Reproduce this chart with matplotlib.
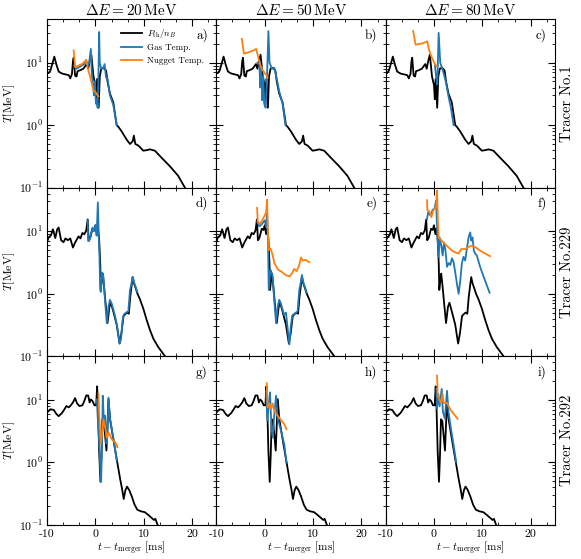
import matplotlib
matplotlib.use("Agg")
import matplotlib.pyplot as plt
from matplotlib.ticker import AutoMinorLocator, LogLocator, NullFormatter

plt.rcParams["font.family"] = "cmr10"
plt.rcParams["mathtext.fontset"] = "cm"
plt.rcParams["axes.unicode_minus"] = False
plt.rcParams["axes.formatter.use_mathtext"] = True

energies = ["20", "50", "80"]
tracers = ["Tracer No.1", "Tracer No.229", "Tracer No.292"]
panel_tags = ["a)", "b)", "c)", "d)", "e)", "f)", "g)", "h)", "i)"]

# P_th / n_B, same in every column of a row
blk1_t = [-10, -9.7, -9.3, -8.8, -8.5, -8.1, -7.6, -6.9, -6.2, -5.5, -5.2, -4.85, -4.65, -4.5,
          -4.2, -3.9, -3.7, -3.1, -2.5, -1.8, -1.5, -1.2, -0.85, -0.4, 0.0, 0.18, 0.35, 0.67,
          0.9, 1.2, 1.7, 2.2, 2.5, 3.0, 3.7, 4.4, 4.7, 5.4, 6.5, 7.15, 7.7, 7.95, 8.25, 8.9,
          9.9, 10.7, 11.3, 12.3, 13.7, 15.4, 17.1, 18.5, 19.0]
blk1_T = [7.0, 6.8, 7.5, 10.3, 12.5, 9.5, 7.2, 6.7, 6.5, 6.3, 5.6, 6.6, 10.5, 12.0,
          6.2, 6.0, 7.3, 7.6, 8.0, 9.5, 8.0, 10.5, 13.4, 6.0, 4.4, 2.6, 5.5, 1.9,
          6.0, 8.0, 8.3, 7.5, 5.0, 3.2, 2.3, 1.0, 0.95, 0.8, 0.58, 0.5, 0.55, 0.68, 0.5, 0.47,
          0.39, 0.4, 0.41, 0.39, 0.3, 0.22, 0.155, 0.1, 0.085]

blk2_t = [-10, -9.7, -9.2, -8.8, -8.3, -7.9, -7.6, -7.1, -6.6, -6.2, -5.7, -5.2, -4.65, -4.2,
          -3.5, -3.1, -2.7, -2.3, -1.9, -1.6, -1.4, -1.1, -0.6, -0.25, 0.0, 0.3, 0.5, 0.75,
          1.0, 1.1, 1.3, 1.5, 1.75, 2.05, 2.5, 2.9, 3.2, 3.7, 4.4, 5.0, 5.4, 5.8, 6.5, 6.9,
          7.2, 7.7, 8.0, 8.3, 8.7, 9.2, 9.9, 10.6, 11.3, 12.0, 13.0, 14.0, 14.6]
blk2_T = [6.6, 8.0, 8.6, 10.8, 7.8, 10.8, 11.5, 7.2, 6.7, 7.7, 7.2, 7.7, 5.5, 6.6,
          8.3, 7.7, 9.4, 9.0, 10.3, 15.5, 7.2, 7.8, 11.0, 10.5, 12.5, 9.0, 11.0, 8.0,
          3.0, 1.15, 1.6, 2.1, 1.4, 0.78, 0.34, 0.62, 0.72, 0.52, 0.32, 0.16, 0.24, 0.44, 0.5, 0.48,
          0.9, 1.85, 1.45, 1.25, 1.0, 0.82, 0.58, 0.38, 0.26, 0.19, 0.14, 0.11, 0.095]

blk3_t = [-10, -9.3, -8.6, -8.1, -7.6, -6.9, -6.4, -6.0, -5.5, -5.1, -4.65, -4.2, -3.8, -3.3,
          -2.7, -2.3, -1.9, -1.5, -1.2, -0.94, -0.6, -0.2, 0.15, 0.36, 0.56, 0.77, 1.04, 1.25,
          1.45, 1.73, 2.0, 2.28, 2.5, 2.7, 3.03, 3.45, 3.86, 4.27, 4.68, 5.1, 5.5, 5.85, 6.2,
          6.53, 7.0, 7.56, 8.1, 8.66, 9.4, 10.2, 10.9, 11.6, 12.1, 12.4, 12.85, 13.2]
blk3_T = [6.3, 7.1, 6.9, 6.0, 5.5, 6.2, 7.1, 8.0, 7.6, 8.2, 9.1, 10.7, 8.8, 8.0,
          8.2, 9.6, 11.8, 11.8, 9.1, 10.2, 9.6, 8.2, 8.2, 16.5, 6.3, 1.5, 0.49, 1.3,
          4.9, 4.6, 2.7, 1.55, 4.1, 10.3, 4.9, 3.1, 2.0, 1.3, 0.85, 0.55, 0.38, 0.26, 0.36,
          0.41, 0.36, 0.28, 0.21, 0.175, 0.165, 0.16, 0.145, 0.13, 0.12, 0.125, 0.1, 0.09]

# gas temperature
gas_a_t = [-4.4, -3.9, -3.0, -2.3, -1.9, -1.6, -1.3, -0.94, -0.75, -0.5, -0.3, -0.1, 0.1, 0.3,
           0.45, 0.6, 0.77, 0.9, 1.2, 1.6, 1.9, 2.2, 2.5, 3.0, 3.7, 4.4]
gas_a_T = [9.0, 8.0, 8.8, 9.5, 11.0, 9.0, 10.0, 16.6, 6.5, 4.5, 3.0, 5.0, 2.2, 2.6,
           1.9, 5.0, 31, 10, 8.0, 8.0, 9.5, 5.8, 5.6, 3.0, 2.1, 1.0]
gas_b_t = [-1.5, -1.1, -0.9, -0.7, -0.5, -0.3, -0.1, 0.2, 0.45, 0.77, 1.0, 1.5, 2.0, 2.5,
           3.0, 3.7, 4.3]
gas_b_T = [10.0, 9.5, 4.0, 8.0, 2.5, 6.0, 2.2, 1.9, 5.0, 32, 10, 8.0, 8.3, 5.5,
           3.5, 2.2, 1.0]
gas_c_t = [0.2, 0.5, 0.7, 0.97, 1.3, 2.0, 2.5, 3.0, 3.5, 4.07]
gas_c_T = [9.0, 5.5, 4.5, 30, 10, 6.8, 4.8, 2.9, 1.9, 1.0]

gas_d_t = [-1.6, -1.5, -1.3, -1.1, -0.6, -0.3, 0.0, 0.25, 0.5, 0.7, 0.84, 0.98, 1.1, 1.4,
           1.65, 1.95, 2.35, 2.7, 3.0, 3.35, 4.0, 4.5, 5.0, 5.3, 5.6, 5.9, 6.5, 6.8, 7.15,
           7.45, 7.7, 8.0, 8.3, 8.67]
gas_d_T = [15.0, 7.0, 7.0, 7.8, 11.5, 10.0, 12.5, 8.5, 29, 8.0, 3.9, 1.3, 1.07, 2.2,
           1.9, 0.85, 0.34, 0.62, 0.8, 0.7, 0.46, 0.3, 0.16, 0.19, 0.37, 0.47, 0.51, 0.52, 1.15,
           1.45, 1.87, 1.5, 1.3, 1.07]
gas_e_t = [-1.5, -1.1, -0.6, 0.0, 0.3, 0.5, 0.7, 0.84, 1.2, 1.4, 1.65, 1.95, 2.35, 2.7,
           3.0, 3.35, 4.0, 4.4, 5.1, 5.4, 5.7, 6.0, 6.5, 6.8, 7.15, 7.45, 7.7, 8.0, 8.3, 8.67]
gas_e_T = [14.0, 12.0, 13.0, 15.0, 12.0, 20.0, 6.0, 1.15, 2.4, 2.2, 1.9, 0.85, 0.34, 0.62,
           0.8, 0.7, 0.46, 0.5, 0.155, 0.3, 0.45, 0.47, 0.5, 0.52, 1.15, 1.5, 2.0, 1.5, 1.3, 1.05]
gas_f_t = [-1.43, -1.2, -0.74, -0.26, 0.15, 0.43, 0.7, 0.98, 1.18, 1.52, 1.8, 2.07, 2.35, 2.7,
           3.03, 3.38, 3.72, 4.06, 4.4, 4.75, 5.1, 5.43, 5.78, 6.1, 6.46, 6.8, 7.15, 7.5, 7.7,
           7.97, 8.25, 8.52, 8.87, 9.55, 10.24, 10.9, 11.5]
gas_f_T = [15.7, 20, 18, 22, 23.5, 31, 9.2, 3.9, 8.0, 5.9, 4.1, 6.6, 5.2, 2.7,
           3.1, 2.9, 3.7, 3.2, 2.2, 1.45, 1.0, 1.6, 3.1, 3.9, 3.4, 5.2, 8.0, 9.6, 7.1,
           8.0, 4.9, 4.4, 4.1, 2.7, 1.9, 1.39, 1.04]

gas_g_t = [0.29, 0.5, 0.77, 0.98, 1.18, 1.39, 1.52, 1.73, 2.0, 2.28, 2.5, 2.7, 3.03, 3.45,
           3.86, 4.4]
gas_g_T = [10.2, 4.9, 2.1, 0.9, 0.49, 2.4, 11.7, 4.9, 5.6, 2.0, 2.7, 10.9, 4.9, 3.2,
           2.1, 1.07]
gas_h_t = [0.3, 0.55, 0.85, 1.1, 1.4, 1.66, 1.9, 2.35, 2.7, 3.4, 4.06, 4.5]
gas_h_T = [14, 4.7, 8.8, 13.2, 3.6, 2.5, 4.8, 11.7, 5.0, 3.2, 1.9, 1.0]
gas_i_t = [0.5, 0.64, 0.9, 1.18, 1.6, 1.85, 2.25, 2.7, 3.0, 3.5, 4.06, 4.6]
gas_i_T = [15, 7.3, 12.5, 7.9, 15, 6.5, 5.0, 14, 6.5, 3.5, 1.9, 1.0]

# nugget temperature
nug_a_t = [-4.5, -4.2, -3.5, -2.8, -1.9, -1.4, -1.1, -0.75, -0.4, 0.0, 0.3, 0.63]
nug_a_T = [15.7, 8.5, 9.0, 9.5, 11.0, 7.2, 6.0, 4.6, 3.6, 3.4, 3.1, 2.9]
nug_b_t = [-4.73, -4.3, -3.5, -2.5, -1.76, -1.3, -1.08, -0.6, 0.0, 0.3, 0.6]
nug_b_T = [24, 14, 14.5, 15.5, 16.6, 12, 10, 8.0, 6.8, 6.4, 5.7]
nug_c_t = [-4.3, -3.8, -3.0, -2.2, -1.4, -1.1, -0.7, -0.2, 0.2, 0.6]
nug_c_T = [32, 19.4, 20, 20.5, 22, 17, 13.4, 11, 9.5, 8.7]

nug_d_t = []
nug_d_T = []
nug_e_t = [-1.56, -1.45, -1.0, -0.5, 0.0, 0.29, 0.5, 0.65, 0.84, 1.2, 1.6, 2.0, 2.7, 3.7,
           4.3, 5.1, 5.6, 6.1, 6.6, 7.1, 7.5, 7.9, 8.5, 9.2]
nug_e_T = [23.7, 14.5, 13.0, 15.0, 18.0, 20, 32, 10, 5.0, 5.3, 4.3, 3.1, 2.45, 2.2,
           2.0, 1.9, 2.1, 2.5, 2.3, 2.8, 3.8, 3.4, 3.5, 3.2]
nug_f_t = [-1.43, -1.36, -0.94, -0.53, -0.26, 0.15, 0.43, 0.63, 0.84, 0.98, 1.3, 1.66, 2.35,
           3.03, 3.72, 4.4, 5.1, 5.64, 6.46, 7.15, 7.84, 8.52, 9.55, 10.6, 11.6]
nug_f_T = [31.5, 21.9, 20.5, 16.8, 20.5, 23.5, 24, 45, 13, 8.0, 7.5, 7.0, 6.2,
           5.5, 4.9, 4.6, 4.4, 5.2, 5.2, 5.6, 5.9, 5.6, 4.9, 4.4, 4.0]

nug_g_t = [0.63, 0.77, 0.98, 1.11, 1.39, 1.66, 2.0, 2.35, 2.7, 3.03, 3.38, 3.72, 4.13, 4.55]
nug_g_T = [12.4, 5.9, 3.1, 2.0, 3.1, 4.9, 3.6, 2.5, 3.0, 2.7, 2.35, 2.2, 2.1, 1.75]
nug_h_t = [0.42, 0.62, 0.97, 1.3, 1.66, 2.0, 2.7, 3.4, 4.06, 4.5]
nug_h_T = [18.5, 7.6, 8.8, 7.2, 8.8, 6.6, 5.6, 4.7, 4.1, 3.4]
nug_i_t = [0.64, 0.78, 1.18, 1.45, 1.8, 2.0, 2.7, 3.3, 4.06, 4.9]
nug_i_T = [24.5, 11.7, 9.8, 8.9, 12.5, 8.9, 9.0, 7.2, 6.0, 5.0]

black = [(blk1_t, blk1_T), (blk2_t, blk2_T), (blk3_t, blk3_T)]
gas = [[(gas_a_t, gas_a_T), (gas_b_t, gas_b_T), (gas_c_t, gas_c_T)],
       [(gas_d_t, gas_d_T), (gas_e_t, gas_e_T), (gas_f_t, gas_f_T)],
       [(gas_g_t, gas_g_T), (gas_h_t, gas_h_T), (gas_i_t, gas_i_T)]]
nug = [[(nug_a_t, nug_a_T), (nug_b_t, nug_b_T), (nug_c_t, nug_c_T)],
       [(nug_d_t, nug_d_T), (nug_e_t, nug_e_T), (nug_f_t, nug_f_T)],
       [(nug_g_t, nug_g_T), (nug_h_t, nug_h_T), (nug_i_t, nug_i_T)]]

fig, axs = plt.subplots(3, 3, figsize=(5.81, 5.59), dpi=100, sharex=True, sharey=True)
fig.subplots_adjust(left=0.081, right=0.955, top=0.966, bottom=0.061, wspace=0, hspace=0)

for r in range(3):
    for c in range(3):
        ax = axs[r, c]
        ax.plot(black[r][0], black[r][1], color="black", lw=1.3, label=r"$P_{\rm th}/n_B$")
        ax.plot(gas[r][c][0], gas[r][c][1], color="#1f77b4", lw=1.3, label="Gas Temp.")
        ax.plot(nug[r][c][0], nug[r][c][1], color="#ff7f0e", lw=1.3, label="Nugget Temp.")
        ax.set_yscale("log")
        ax.set_xlim(-10, 25)
        ax.set_ylim(0.1, 50)
        ax.set_xticks([-10, 0, 10, 20])
        ax.xaxis.set_minor_locator(AutoMinorLocator(3))
        ax.yaxis.set_major_locator(LogLocator(base=10, numticks=5))
        ax.yaxis.set_minor_locator(LogLocator(base=10, subs=range(2, 10), numticks=10))
        ax.yaxis.set_minor_formatter(NullFormatter())
        ax.tick_params(which="both", direction="in", top=True, right=True, labelsize=8.5)
        ax.tick_params(which="major", length=5, width=0.8, pad=3)
        ax.tick_params(which="minor", length=2.5, width=0.6)
        for s in ax.spines.values():
            s.set_linewidth(0.8)
        ax.text(0.95, 0.945, panel_tags[3 * r + c], transform=ax.transAxes,
                ha="right", va="top", fontsize=9.5)
        if c == 0:
            ax.set_ylabel(r"$T[\mathrm{MeV}]$", fontsize=8.5, labelpad=1)
        if r == 2:
            ax.set_xlabel(r"$t - t_{\mathrm{merger}}\ [\mathrm{ms}]$", fontsize=8, labelpad=1)
            ax.set_xticklabels(["-10", "0", "10", "20"])
        if r == 0:
            ax.set_title(r"$\Delta E = %s\,\mathrm{MeV}$" % energies[c], fontsize=11, pad=3)
        if c == 2:
            ax.text(1.07, 0.5, tracers[r], transform=ax.transAxes, rotation=90,
                    ha="center", va="center", fontsize=10.5)

axs[0, 0].legend(loc="upper left", bbox_to_anchor=(0.4, 0.99), frameon=False, fontsize=6.5,
                 handlelength=2.3, handletextpad=0.6, labelspacing=0.45, borderaxespad=0.3)

plt.savefig("out.png", dpi=100)
